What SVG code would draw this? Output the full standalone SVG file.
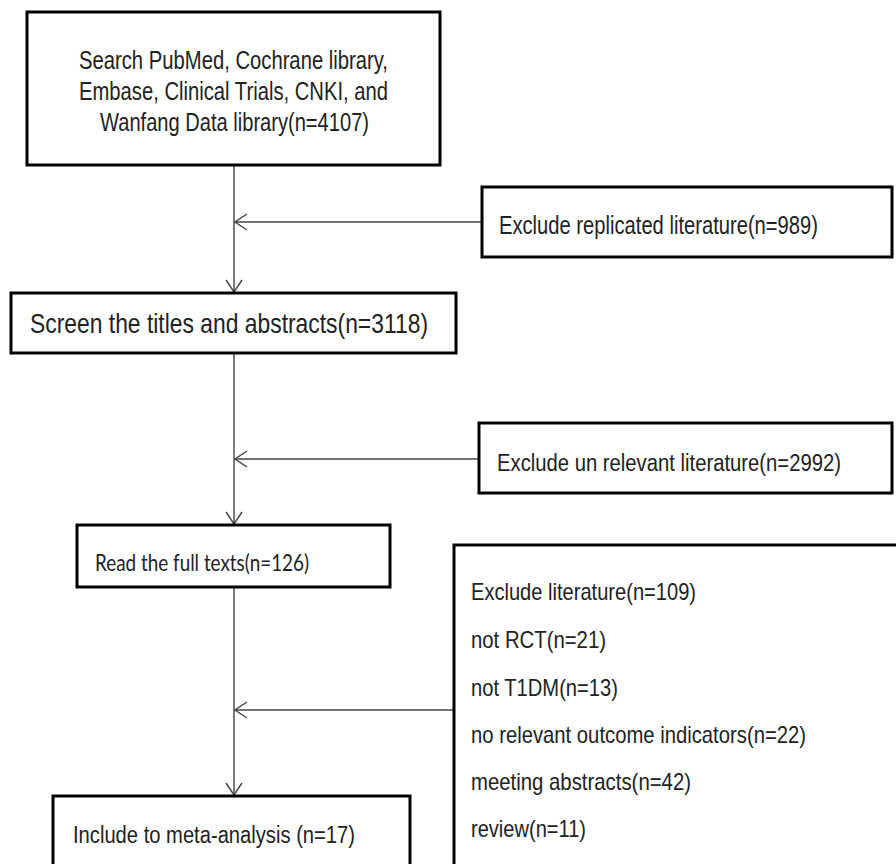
<svg xmlns="http://www.w3.org/2000/svg" width="896" height="864" viewBox="0 0 896 864">
<style>
.box{fill:#fff;stroke:#000;stroke-width:3}
.t{font-family:"Liberation Sans",Arial,sans-serif;fill:#222}
.c{font-family:Lato,"Liberation Sans",sans-serif;fill:#222}
.ln{stroke:#444;stroke-width:1.4;fill:none}
</style>
<defs>
<marker id="ah" viewBox="0 0 14 18" refX="13" refY="9" markerWidth="14" markerHeight="18" markerUnits="userSpaceOnUse" orient="auto">
<path d="M1,1 L13,9 L1,17" fill="none" stroke="#444" stroke-width="1.4"/>
</marker>
</defs>
<rect width="896" height="864" fill="#fff"/>
<g id="connectors">
<line class="ln" x1="234" y1="165" x2="234" y2="292" marker-end="url(#ah)"/>
<line class="ln" x1="234" y1="353" x2="234" y2="524" marker-end="url(#ah)"/>
<line class="ln" x1="234" y1="587" x2="234" y2="795" marker-end="url(#ah)"/>
<line class="ln" x1="482" y1="222" x2="235" y2="222" marker-end="url(#ah)"/>
<line class="ln" x1="479" y1="459" x2="235" y2="459" marker-end="url(#ah)"/>
<line class="ln" x1="454" y1="710" x2="235" y2="710" marker-end="url(#ah)"/>
</g>
<g id="search">
<rect class="box" x="27" y="12" width="413" height="153"/>
<text class="t" font-size="25" x="79" y="69" textLength="309" lengthAdjust="spacingAndGlyphs">Search PubMed, Cochrane library,</text>
<text class="t" font-size="25" x="79" y="100" textLength="309" lengthAdjust="spacingAndGlyphs">Embase, Clinical Trials, CNKI, and</text>
<text class="t" font-size="25" x="100" y="131" textLength="269" lengthAdjust="spacingAndGlyphs">Wanfang Data library(n=4107)</text>
</g>
<g id="excl-replicated">
<rect class="box" x="482" y="187" width="410" height="70"/>
<text class="t" font-size="25" x="499" y="234" textLength="319" lengthAdjust="spacingAndGlyphs">Exclude replicated literature(n=989)</text>
</g>
<g id="screen">
<rect class="box" x="11" y="293" width="445" height="60"/>
<text class="t" font-size="28" x="30" y="333" textLength="398" lengthAdjust="spacingAndGlyphs">Screen the titles and abstracts(n=3118)</text>
</g>
<g id="excl-irrelevant">
<rect class="box" x="479" y="423" width="413" height="70"/>
<text class="t" font-size="23" x="497" y="471" textLength="344" lengthAdjust="spacingAndGlyphs">Exclude un relevant literature(n=2992)</text>
</g>
<g id="read">
<rect class="box" x="77" y="525" width="313" height="62"/>
<text class="c" font-size="23" x="95" y="571" textLength="214" lengthAdjust="spacingAndGlyphs">Read the full texts(n=126)</text>
</g>
<g id="excl-fulltext">
<rect class="box" x="454" y="545" width="450" height="330"/>
<text class="t" font-size="24" x="471" y="600" textLength="225" lengthAdjust="spacingAndGlyphs">Exclude literature(n=109)</text>
<text class="t" font-size="24" x="471" y="648" textLength="135" lengthAdjust="spacingAndGlyphs">not RCT(n=21)</text>
<text class="t" font-size="24" x="471" y="696" textLength="147" lengthAdjust="spacingAndGlyphs">not T1DM(n=13)</text>
<text class="t" font-size="24" x="471" y="743" textLength="335" lengthAdjust="spacingAndGlyphs">no relevant outcome indicators(n=22)</text>
<text class="t" font-size="24" x="471" y="790" textLength="220" lengthAdjust="spacingAndGlyphs">meeting abstracts(n=42)</text>
<text class="t" font-size="24" x="471" y="837" textLength="115" lengthAdjust="spacingAndGlyphs">review(n=11)</text>
</g>
<g id="include">
<rect class="box" x="53" y="796" width="357" height="80"/>
<text class="t" font-size="23" x="73" y="843" textLength="282" lengthAdjust="spacingAndGlyphs">Include to meta-analysis (n=17)</text>
</g>
</svg>
